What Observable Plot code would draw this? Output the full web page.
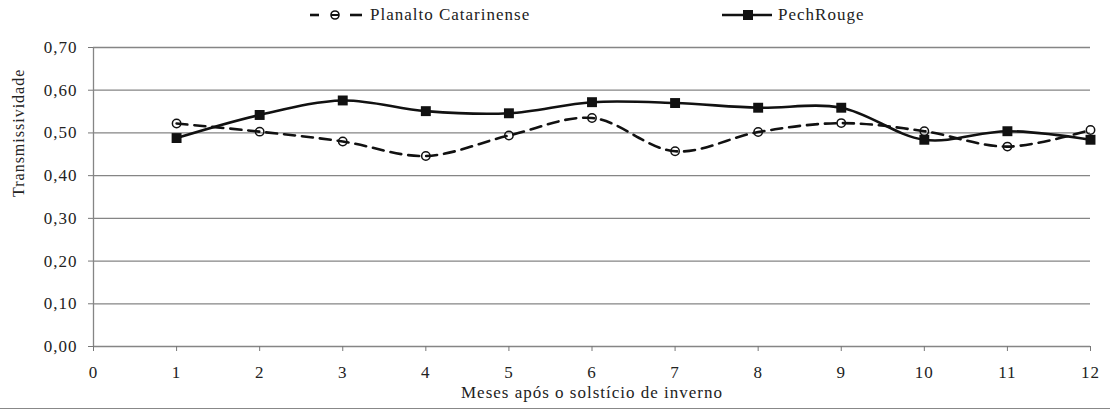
<!DOCTYPE html>
<html><head><meta charset="utf-8">
<script src="https://cdn.jsdelivr.net/npm/d3@7"></script>
<script src="https://cdn.jsdelivr.net/npm/@observablehq/plot@0.6"></script>
<style>
body{margin:0;background:#fff;width:1116px;height:411px;overflow:hidden;font-family:"Liberation Serif","Times New Roman","DejaVu Serif",serif;position:relative;}
#legend{position:relative;height:28px;font-size:17px;letter-spacing:1px;color:#222;}
.item{position:absolute;top:4px;display:flex;align-items:center;height:22px;}
.item svg{display:block;margin-right:5px;}
#bottomline{position:absolute;left:0;right:6px;top:408px;height:0;border-top:1.5px solid #888;}
</style></head><body>
<div id="legend"></div>
<div id="chart"></div>
<div id="bottomline"></div>
<script>
const months = [1, 2, 3, 4, 5, 6, 7, 8, 9, 10, 11, 12];
const planalto = [0.522, 0.503, 0.480, 0.446, 0.494, 0.535, 0.457, 0.502, 0.523, 0.504, 0.468, 0.507];
const pechRouge = [0.488, 0.542, 0.576, 0.551, 0.546, 0.572, 0.570, 0.559, 0.559, 0.484, 0.504, 0.484];
const seriesNames = ["Planalto Catarinense", "PechRouge"];
const xTicks = [0, 1, 2, 3, 4, 5, 6, 7, 8, 9, 10, 11, 12];
const yTicks = [0, 0.1, 0.2, 0.3, 0.4, 0.5, 0.6, 0.7];
const xLabel = "Meses após o solstício de inverno";
const yLabel = "Transmissividade";

const planData = months.map((m, i) => ({month: m, value: planalto[i]}));
const pechData = months.map((m, i) => ({month: m, value: pechRouge[i]}));

const legend = document.getElementById("legend");
legend.innerHTML = `
<div class="item" style="left:309px">
  <svg width="56" height="12"><line x1="1" y1="6" x2="10" y2="6" stroke="#111" stroke-width="2.6"/><line x1="41" y1="6" x2="53" y2="6" stroke="#111" stroke-width="2.6"/><circle cx="26" cy="6" r="4" fill="none" stroke="#111" stroke-width="1.6"/><line x1="22" y1="6" x2="30" y2="6" stroke="#111" stroke-width="2"/></svg>
  <span>${seriesNames[0]}</span></div>
<div class="item" style="left:722px">
  <svg width="51" height="12"><line x1="0" y1="6" x2="50" y2="6" stroke="#111" stroke-width="2.6"/><rect x="21" y="1" width="10" height="10" fill="#111"/></svg>
  <span>${seriesNames[1]}</span></div>`;

const fmt = d => d.toFixed(2).replace(".", ",");
const serif = "'Liberation Serif', 'Times New Roman', 'DejaVu Serif', serif";

const chart = Plot.plot({
  width: 1116,
  height: 383,
  marginTop: 19,
  marginBottom: 65,
  marginLeft: 93,
  marginRight: 26,
  x: {domain: [0, 12]},
  y: {domain: [0, 0.7]},
  style: {fontFamily: serif, fontSize: "17px", color: "#222", background: "#fff", letterSpacing: "1px"},
  marks: [
    Plot.gridY(yTicks, {stroke: "#858585", strokeOpacity: 1, strokeWidth: 1.3}),
    Plot.ruleX([0], {stroke: "#858585", strokeWidth: 1.3}),
    Plot.axisY(yTicks, {tickFormat: fmt, tickSize: 5, tickPadding: 11, stroke: "#777", label: null, fontFamily: serif}),
    Plot.axisX(xTicks, {tickSize: 5, tickPadding: 14, stroke: "#777", label: null, fontFamily: serif}),
    Plot.line(planData, {x: "month", y: "value", curve: "catmull-rom", stroke: "#111", strokeWidth: 2.6, strokeDasharray: "11,7"}),
    Plot.dot(planData, {x: "month", y: "value", symbol: "circle", r: 4.2, fill: "none", stroke: "#111", strokeWidth: 1.5}),
    Plot.line(pechData, {x: "month", y: "value", curve: "catmull-rom", stroke: "#111", strokeWidth: 2.6}),
    Plot.dot(pechData, {x: "month", y: "value", symbol: "square", r: 5.6, fill: "#111", stroke: null}),
    Plot.text([yLabel], {frameAnchor: "left", dx: -75, rotate: -90, fontSize: 16, fill: "#222", fontFamily: serif}),
    Plot.text([xLabel], {frameAnchor: "bottom", dy: 46, fontSize: 17, fill: "#222", lineAnchor: "middle", fontFamily: serif})
  ]
});
document.getElementById("chart").appendChild(chart);
</script>
</body></html>
